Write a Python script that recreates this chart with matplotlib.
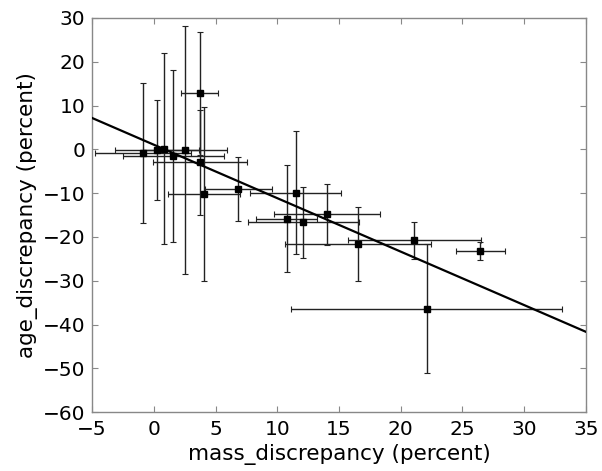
import matplotlib
matplotlib.use("Agg")
import matplotlib.pyplot as plt
import numpy as np

# data
mass = [-0.85, 0.23, 0.83, 1.58, 2.50, 3.74, 3.74, 4.09, 6.84, 10.76, 11.49, 12.11, 14.02, 16.56, 21.10, 26.47, 22.10]
age = [-0.9, -0.16, 0.14, -1.6, -0.16, 12.8, -3.0, -10.2, -9.05, -15.85, -9.9, -16.7, -14.85, -21.6, -20.8, -23.2, -36.4]
mass_err = [3.9, 3.4, 0.0, 4.1, 3.4, 1.5, 3.8, 2.9, 2.7, 2.5, 3.7, 4.5, 4.3, 5.9, 5.4, 2.0, 11.0]
age_err = [16.0, 11.4, 21.8, 19.6, 28.2, 14.0, 12.0, 19.8, 7.3, 12.2, 14.0, 8.0, 6.9, 8.4, 4.2, 2.0, 14.7]

fit_slope = -1.22
fit_intercept = 1.05
fit_range = [-5, 35]

xticks = list(range(-5, 36, 5))
yticks = list(range(-60, 31, 10))

fig = plt.figure(figsize=(6.02, 4.71), dpi=100)
ax = fig.add_axes([0.153, 0.125, 0.820, 0.837])

ax.errorbar(mass, age, xerr=mass_err, yerr=age_err, fmt='s', color='black',
            ecolor='#222222', elinewidth=1.0, capsize=2, capthick=0.8,
            markersize=5, zorder=3)

xf = np.array(fit_range, dtype=float)
ax.plot(xf, fit_slope * xf + fit_intercept, color='black', linewidth=1.6, zorder=4)

ax.set_xlim(-5, 35)
ax.set_ylim(-60, 30)
ax.set_xticks(xticks)
ax.set_yticks(yticks)
ax.set_xticklabels([f"\u2212{abs(t)}" if t < 0 else str(t) for t in xticks])
ax.set_yticklabels([f"\u2212{abs(t)}" if t < 0 else str(t) for t in yticks])
ax.tick_params(direction='in', top=True, right=True, length=4, width=0.8,
               colors='#888888', labelcolor='black', labelsize=14.5)
ax.tick_params(axis='x', pad=6)
ax.tick_params(axis='y', pad=5)
for s in ax.spines.values():
    s.set_color('#888888')
    s.set_linewidth(1.0)

ax.set_xlabel('mass_discrepancy (percent)', fontsize=15.5, labelpad=3)
ax.set_ylabel('age_discrepancy (percent)', fontsize=15.5, labelpad=3)

fig.savefig('out.png', dpi=100)
